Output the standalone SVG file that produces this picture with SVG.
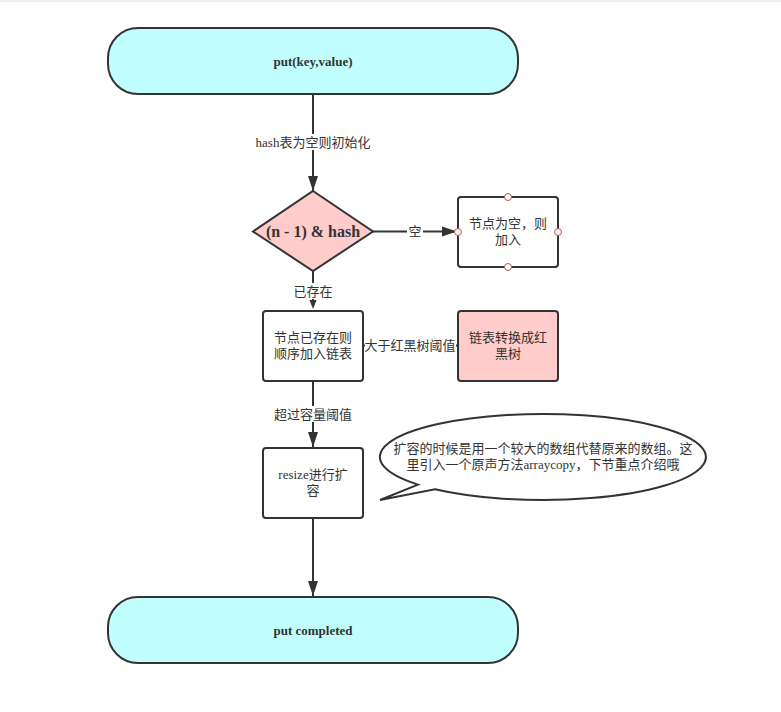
<svg xmlns="http://www.w3.org/2000/svg" width="781" height="712" viewBox="0 0 781 712">
<style>
.t{font-family:"Liberation Serif","Noto Sans CJK SC",serif;font-size:13px;fill:#333;text-anchor:middle}
.b{font-weight:bold}
.n{stroke:#333;stroke-width:2}
.e{stroke:#333;stroke-width:2;fill:none}
.lb{fill:#fff}
.pt{fill:#fff;stroke:#b85450;stroke-width:1}
</style>
<defs>
<marker id="ar" markerWidth="16" markerHeight="12" refX="15" refY="6" orient="auto" markerUnits="userSpaceOnUse">
<path d="M0,1 L15,6 L0,11 Z" fill="#333" stroke="none"/>
</marker>
</defs>
<rect x="0" y="0" width="781" height="2" fill="#efefef"/>
<g id="connectors">
<line class="e" x1="313" y1="94" x2="313" y2="191" marker-end="url(#ar)"/>
<rect class="lb" x="254" y="134" width="118" height="16"/>
<text class="t" x="313" y="147">hash表为空则初始化</text>
<line class="e" x1="373" y1="231.5" x2="457" y2="231.5" marker-end="url(#ar)"/>
<rect class="lb" x="407" y="224" width="16" height="16"/>
<text class="t" x="415" y="236">空</text>
<line class="e" x1="313" y1="271" x2="313" y2="300"/>
<path d="M309.5,300 L316.5,300 L313,309 Z" fill="#333"/>
<rect class="lb" x="292" y="283" width="42" height="16"/>
<text class="t" x="313" y="296">已存在</text>
<line class="e" x1="363" y1="345.5" x2="458" y2="345.5"/>
<rect class="lb" x="365" y="337" width="91" height="16"/>
<text class="t" x="410" y="350">大于红黑树阈值</text>
<line class="e" x1="313" y1="381" x2="313" y2="447" marker-end="url(#ar)"/>
<rect class="lb" x="272" y="406" width="82" height="16"/>
<text class="t" x="313" y="419">超过容量阈值</text>
<line class="e" x1="313" y1="518" x2="313" y2="596" marker-end="url(#ar)"/>
</g>
<g id="start">
<rect class="n" x="108" y="28" width="410" height="66" rx="30" ry="30" fill="#c1ffff"/>
<text class="t b" x="313" y="65.5">put(key,value)</text>
</g>
<g id="decision">
<path class="n" d="M313,191 L373,231.5 L313,271 L253,231.5 Z" fill="#ffcccc"/>
<text class="t b" x="313" y="237" style="font-size:16px">(n - 1) &amp; hash</text>
</g>
<g id="empty-node">
<rect class="n" x="458" y="197" width="100" height="70" rx="3" fill="#fff"/>
<text class="t" x="508" y="228">节点为空，则</text>
<text class="t" x="508" y="244">加入</text>
<circle class="pt" cx="508" cy="197" r="3.5"/>
<circle class="pt" cx="508" cy="267" r="3.5"/>
<circle class="pt" cx="458" cy="232" r="3.5"/>
<circle class="pt" cx="558" cy="232" r="3.5"/>
</g>
<g id="exists-node">
<rect class="n" x="263" y="311" width="100" height="70" rx="3" fill="#fff"/>
<text class="t" x="313" y="342">节点已存在则</text>
<text class="t" x="313" y="358">顺序加入链表</text>
</g>
<g id="tree-node">
<rect class="n" x="458" y="311" width="100" height="70" rx="3" fill="#ffcccc"/>
<text class="t" x="508" y="342">链表转换成红</text>
<text class="t" x="508" y="358">黑树</text>
</g>
<g id="resize-node">
<rect class="n" x="263" y="448" width="100" height="70" rx="3" fill="#fff"/>
<text class="t" x="313" y="479">resize进行扩</text>
<text class="t" x="313" y="495">容</text>
</g>
<g id="callout">
<path class="n" d="M418,484.6 L380,500 L435,489.2 A163,43 0 1 0 418,484.6 Z" fill="#fff"/>
<text class="t" x="543" y="453">扩容的时候是用一个较大的数组代替原来的数组。这</text>
<text class="t" x="543" y="469">里引入一个原声方法arraycopy，下节重点介绍哦</text>
</g>
<g id="end">
<rect class="n" x="108" y="597" width="410" height="66" rx="30" ry="30" fill="#c1ffff"/>
<text class="t b" x="313" y="634.5">put completed</text>
</g>
</svg>
